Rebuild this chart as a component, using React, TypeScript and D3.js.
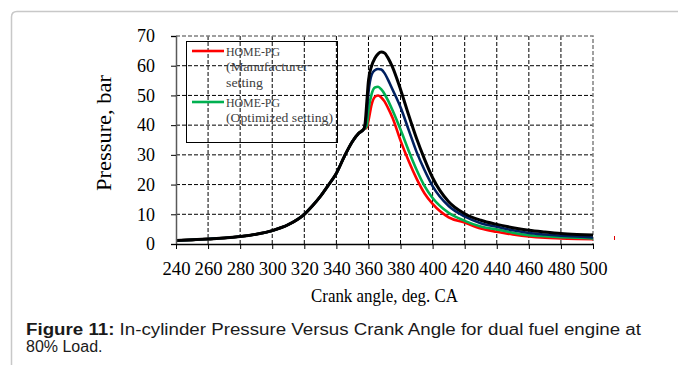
import React, { useRef, useEffect } from 'react';
import * as d3 from 'd3';

// compression stroke, same for every case
const compressionAngles = [240, 250, 260, 270, 280, 290, 300, 310, 320, 325, 330, 335, 340, 345, 350, 354, 357];
const compressionPressure = [1.2, 1.4, 1.7, 2.0, 2.5, 3.3, 4.5, 6.5, 10.0, 12.8, 16.0, 19.8, 23.8, 29.5, 34.5, 37.3, 38.6];

// combustion / expansion, one list per case
const combustionAngles = [358, 359, 360, 362, 364, 366, 368, 370, 372, 375, 380, 385, 390, 395, 400, 410, 420, 430, 440, 450, 460, 470, 480, 490, 500];
const redPressure = [38.8, 39.3, 41.5, 47.0, 49.5, 50.0, 49.3, 48.0, 46.0, 42.5, 34.8, 28.0, 22.0, 17.0, 13.5, 9.0, 7.2, 5.2, 4.1, 3.2, 2.5, 2.1, 1.9, 1.7, 1.6];
const greenPressure = [39.0, 40.0, 45.0, 50.5, 52.7, 52.9, 52.0, 50.5, 48.5, 45.0, 38.5, 31.5, 25.0, 19.5, 15.5, 10.5, 7.8, 5.9, 4.9, 3.8, 3.0, 2.6, 2.3, 2.1, 1.9];
const bluePressure = [40.0, 45.0, 51.0, 57.0, 58.5, 58.9, 58.7, 57.5, 55.5, 52.0, 46.0, 38.5, 31.0, 24.8, 19.5, 12.8, 9.3, 7.0, 5.8, 4.6, 3.7, 3.2, 2.8, 2.5, 2.2];
const blackPressure = [41.0, 48.0, 55.0, 60.0, 62.5, 64.0, 64.6, 64.3, 62.8, 59.5, 52.0, 43.5, 35.5, 28.5, 22.3, 14.2, 10.2, 8.0, 6.6, 5.5, 4.6, 4.0, 3.5, 3.2, 3.0];

const xTicks = [240, 260, 280, 300, 320, 340, 360, 380, 400, 420, 440, 460, 480, 500];
const yTicks = [0, 10, 20, 30, 40, 50, 60, 70];

const series = [
  { name: 'red', color: '#ff0000', width: 2.6, values: redPressure },
  { name: 'green', color: '#00b050', width: 2.6, values: greenPressure },
  { name: 'blue', color: '#002060', width: 2.6, values: bluePressure },
  { name: 'black', color: '#000000', width: 3, values: blackPressure },
];

const legendItems = [
  { color: '#ff0000', lines: ['HOME-PG', '(Manufacturer', 'setting'] },
  { color: '#00b050', lines: ['HOME-PG', '(Optimized setting)'] },
];
// widths the legend words take in the picture
const legendWidths: Record<string, number> = {
  'HOME-PG': 54,
  '(Manufacturer': 82,
  'setting': 37,
  '(Optimized setting)': 107,
};

const App: React.FC = () => {
  const svgRef = useRef<SVGSVGElement>(null);
  const width = 678;
  const height = 365;
  const plot = { left: 176, right: 593, top: 36, bottom: 244 };
  const serif = '"Liberation Serif", "Times New Roman", serif';
  const sans = '"Liberation Sans", Arial, sans-serif';

  useEffect(() => {
    if (!svgRef.current) return;
    const svg = d3.select(svgRef.current);
    svg.selectAll('*').remove();

    // page frame
    svg.append('path')
      .attr('d', `M11.5,${height} L11.5,17 Q11.5,11.5 17,11.5 L${width},11.5`)
      .attr('fill', 'none')
      .attr('stroke', '#c8c8c8')
      .attr('stroke-width', 1.5);

    const x = d3.scaleLinear().domain([240, 500]).range([plot.left, plot.right]);
    const y = d3.scaleLinear().domain([0, 70]).range([plot.bottom, plot.top]);

    // grid
    const grid = svg.append('g');
    grid.selectAll('.vgrid')
      .data(xTicks.slice(1, -1))
      .enter()
      .append('line')
      .attr('x1', d => x(d)).attr('x2', d => x(d))
      .attr('y1', plot.top).attr('y2', plot.bottom)
      .attr('stroke', '#000')
      .attr('stroke-width', 1)
      .attr('stroke-dasharray', '4,2');
    grid.selectAll('.hgrid')
      .data(yTicks.slice(1, -1))
      .enter()
      .append('line')
      .attr('x1', plot.left).attr('x2', plot.right)
      .attr('y1', d => y(d)).attr('y2', d => y(d))
      .attr('stroke', '#000')
      .attr('stroke-width', 1)
      .attr('stroke-dasharray', '4,2');
    // top and right border
    grid.append('path')
      .attr('d', `M${plot.left},${y(70)} L${x(500)},${y(70)} L${x(500)},${plot.bottom}`)
      .attr('fill', 'none')
      .attr('stroke', '#808080')
      .attr('stroke-width', 1.5)
      .attr('stroke-dasharray', '4,2');

    // legend box (under the curves, no fill)
    const lg = svg.append('g');
    lg.append('rect')
      .attr('x', 186.5).attr('y', 41.5)
      .attr('width', 151).attr('height', 101)
      .attr('fill', 'none')
      .attr('stroke', '#000')
      .attr('stroke-width', 1);
    let ly = 51;
    legendItems.forEach(item => {
      lg.append('line')
        .attr('x1', 192).attr('x2', 224)
        .attr('y1', ly).attr('y2', ly)
        .attr('stroke', item.color)
        .attr('stroke-width', 2.6);
      item.lines.forEach((t, i) => {
        lg.append('text')
          .attr('x', 226)
          .attr('y', ly + 5 + i * 15.3)
          .attr('fill', '#404040')
          .attr('font-family', serif)
          .attr('font-size', 13)
          .attr('textLength', legendWidths[t])
          .attr('lengthAdjust', 'spacingAndGlyphs')
          .text(t);
      });
      ly += 51;
    });

    // curves
    const line = d3.line<[number, number]>()
      .x(d => x(d[0]))
      .y(d => y(d[1]))
      .curve(d3.curveMonotoneX);

    series.forEach(s => {
      const pts: [number, number][] = [
        ...compressionAngles.map((a, i) => [a, compressionPressure[i]] as [number, number]),
        ...combustionAngles.map((a, i) => [a, s.values[i]] as [number, number]),
      ];
      svg.append('path')
        .datum(pts)
        .attr('d', line)
        .attr('fill', 'none')
        .attr('stroke', s.color)
        .attr('stroke-width', s.width)
        .attr('stroke-linejoin', 'round');
    });

    // y axis
    const yAxis = svg.append('g')
      .attr('transform', `translate(${plot.left},0)`)
      .call(d3.axisLeft(y).tickValues(yTicks).tickSize(5).tickPadding(16));
    yAxis.select('.domain').attr('stroke', '#595959').attr('stroke-width', 1.5);
    yAxis.selectAll('.tick line').attr('stroke', '#000');
    yAxis.selectAll<SVGTextElement, number>('text')
      .attr('font-family', serif)
      .attr('font-size', 18)
      .attr('fill', '#000')
      .attr('textLength', d => String(d).length * 9)
      .attr('lengthAdjust', 'spacingAndGlyphs');

    // x axis
    const xAxis = svg.append('g')
      .attr('transform', `translate(0,${plot.bottom})`)
      .call(d3.axisBottom(x).tickValues(xTicks).tickSize(5).tickSizeOuter(0).tickPadding(13));
    xAxis.select('.domain').attr('stroke', '#000').attr('stroke-width', 1.5);
    xAxis.selectAll('.tick line').attr('stroke', '#000');
    xAxis.selectAll('text')
      .attr('font-family', serif)
      .attr('font-size', 18)
      .attr('fill', '#000')
      .attr('textLength', 28)
      .attr('lengthAdjust', 'spacingAndGlyphs');

    // axis titles
    svg.append('text')
      .attr('x', (plot.left + plot.right) / 2)
      .attr('y', 302)
      .attr('text-anchor', 'middle')
      .attr('font-family', serif)
      .attr('font-size', 18)
      .attr('textLength', 147)
      .attr('lengthAdjust', 'spacingAndGlyphs')
      .text('Crank angle, deg. CA');

    svg.append('text')
      .attr('transform', 'rotate(-90)')
      .attr('x', -133)
      .attr('y', 111)
      .attr('text-anchor', 'middle')
      .attr('font-family', serif)
      .attr('font-size', 20)
      .attr('textLength', 116)
      .attr('lengthAdjust', 'spacingAndGlyphs')
      .text('Pressure, bar');

    // stray marker at the right
    svg.append('line')
      .attr('x1', 614.5).attr('x2', 614.5)
      .attr('y1', 236).attr('y2', 240)
      .attr('stroke', '#e00000')
      .attr('stroke-width', 1);

    // caption
    const cap = svg.append('text')
      .attr('x', 26)
      .attr('y', 335)
      .attr('font-family', sans)
      .attr('font-size', 16)
      .attr('fill', '#1a1a1a')
      .attr('textLength', 615)
      .attr('lengthAdjust', 'spacingAndGlyphs');
    cap.append('tspan').attr('font-weight', 'bold').text('Figure 11:');
    cap.append('tspan').text(' In-cylinder Pressure Versus Crank Angle for dual fuel engine at');
    svg.append('text')
      .attr('x', 26)
      .attr('y', 352)
      .attr('font-family', sans)
      .attr('font-size', 16)
      .attr('fill', '#1a1a1a')
      .text('80% Load.');
  }, []);

  return (
    <div style={{ position: 'absolute', left: 0, top: 0, background: '#fff' }}>
      <svg ref={svgRef} width={width} height={height} style={{ display: 'block' }} />
    </div>
  );
};

export default App;
